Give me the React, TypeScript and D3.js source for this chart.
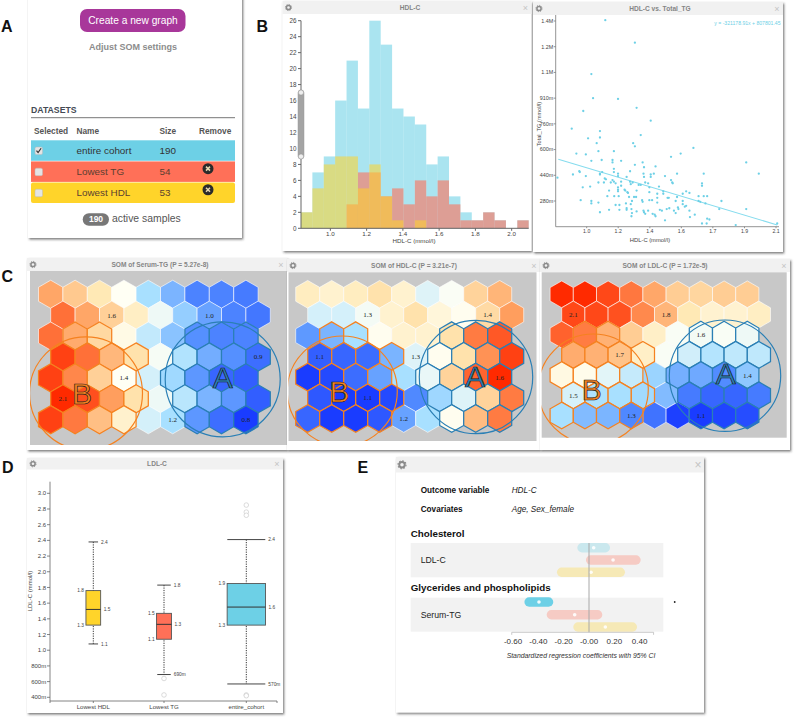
import * as d3 from "d3";
import React from "react";

const CYAN = "#6dd0e6";
const RED = "#ff7058";
const YELLOW = "#ffd42a";

// panel A
const datasetNames = ["entire cohort", "Lowest TG", "Lowest HDL"];
const datasetSizes = [190, 54, 53];

// panel B histogram, counts per bin
const histStart = 0.838;
const histBinWidth = 0.0628;
const histEntire = [2, 7, 9, 16, 21, 15, 26, 23, 15, 14, 13, 8, 9, 4, 2, 1, 2, 1, 0, 1];
const histLowTG = [0, 0, 0, 0, 3, 7, 7, 4, 5, 3, 6, 4, 6, 3, 1, 1, 2, 1, 0, 1];
const histLowHDL = [2, 5, 8, 9, 9, 5, 8, 4, 1, 0, 1, 0, 0, 0, 0, 0, 0, 0, 0, 0];
const histXTicks = [1.0, 1.2, 1.4, 1.6, 1.8, 2.0];
const histYTicks = d3.range(0, 27, 2);

// panel B scatter
const hdlValues = [
  0.83, 0.913, 0.92, 0.94, 0.957, 0.96, 0.965, 0.98, 0.977, 0.995, 0.995, 1.008, 1.02, 1.027, 1.027, 1.027, 1.027,
  1.037, 1.058, 1.068, 1.068, 1.068, 1.077, 1.077, 1.077, 1.077, 1.077, 1.09, 1.087, 1.1, 1.105, 1.112, 1.108, 1.12,
  1.13, 1.13, 1.14, 1.15, 1.15, 1.15, 1.158, 1.158, 1.158, 1.158, 1.16, 1.168, 1.168, 1.182, 1.182, 1.182, 1.182,
  1.182, 1.182, 1.186, 1.19, 1.19, 1.2, 1.2, 1.2, 1.22, 1.224, 1.228, 1.232, 1.236, 1.232, 1.232, 1.24, 1.246, 1.252,
  1.252, 1.256, 1.256, 1.26, 1.26, 1.263, 1.263, 1.267, 1.27, 1.275, 1.28, 1.28, 1.28, 1.287, 1.29, 1.29, 1.29, 1.302,
  1.314, 1.314, 1.322, 1.325, 1.325, 1.33, 1.333, 1.333, 1.33, 1.333, 1.34, 1.34, 1.357, 1.357, 1.364, 1.364, 1.364,
  1.372, 1.372, 1.372, 1.38, 1.383, 1.39, 1.395, 1.4, 1.4, 1.41, 1.41, 1.41, 1.42, 1.425, 1.437, 1.445, 1.445, 1.455,
  1.455, 1.465, 1.47, 1.477, 1.48, 1.49, 1.49, 1.497, 1.5, 1.507, 1.517, 1.517, 1.525, 1.525, 1.53, 1.533, 1.546,
  1.558, 1.558, 1.558, 1.57, 1.578, 1.578, 1.597, 1.597, 1.6, 1.62, 1.628, 1.65, 1.65, 1.66, 1.67, 1.67, 1.67, 1.68,
  1.68, 1.69, 1.7, 1.697, 1.7, 1.713, 1.77, 1.783, 1.866, 1.927, 1.927, 2.0, 2.107,
];
const tgValues = [
  0.425, 0.73, 0.445, 0.575, 0.465, 0.46, 0.285, 0.84, 0.365, 0.57, 0.435, 0.67, 0.37, 0.53, 0.28, 1.07, 0.265, 0.92,
  0.64, 0.59, 0.395, 0.27, 0.715, 0.675, 0.45, 0.445, 0.21, 0.46, 0.535, 0.395, 0.42, 0.415, 1.405, 0.31, 0.345, 0.225,
  0.395, 0.535, 0.52, 0.41, 0.59, 0.48, 0.46, 0.4, 0.31, 0.39, 0.255, 0.915, 0.45, 0.435, 0.365, 0.35, 0.34, 0.31,
  0.255, 0.225, 0.53, 0.4, 0.375, 0.35, 0.345, 0.265, 0.43, 0.335, 0.235, 0.225, 0.33, 0.305, 0.465, 0.4, 0.385, 0.26,
  0.23, 0.185, 0.28, 0.205, 0.395, 0.64, 0.305, 0.62, 1.265, 0.505, 0.305, 0.345, 0.215, 0.86, 0.38, 0.69, 0.38, 0.285,
  0.52, 0.275, 0.22, 0.21, 0.49, 0.45, 0.43, 0.2, 0.395, 0.39, 0.22, 0.365, 0.285, 0.335, 0.78, 0.43, 0.445, 0.285, 0.2,
  0.45, 0.195, 0.495, 0.185, 0.325, 0.3, 0.27, 0.37, 0.225, 0.22, 0.34, 0.325, 0.16, 0.435, 0.23, 0.3, 0.3, 0.235, 0.41,
  0.555, 0.395, 0.39, 0.22, 0.28, 0.205, 0.45, 0.305, 0.24, 0.23, 0.575, 0.325, 0.28, 0.26, 0.245, 0.34, 0.25, 0.33,
  0.22, 0.18, 0.61, 0.195, 0.31, 0.28, 0.275, 0.39, 0.375, 0.14, 0.45, 0.31, 0.265, 0.31, 0.14, 0.17, 0.165, 0.23, 0.28,
  0.13, 0.52, 0.23, 0.45, 0.14,
];
const regSlope = -0.32117891;
const regIntercept = 0.80780145;
const scatterXTicks = [1.0, 1.183, 1.367, 1.55, 1.733, 1.917, 2.1];
const scatterXLabels = ["1.0", "1.2", "1.4", "1.6", "1.7", "1.9", "2.1"];
const scatterYTicks = [0.28, 0.44, 0.6, 0.76, 0.92, 1.08, 1.24, 1.4];
const scatterYLabels = ["280m", "440m", "600m", "760m", "910m", "1.1M", "1.2M", "1.4M"];

// panel C, SOM cell values, row by row
const somTG = [
  [1.82, 1.68, 1.55, 1.42, 1.22, 1.1, 0.97, 0.97, 0.95],
  [1.95, 1.82, 1.65, 1.52, 1.38, 1.17, 1.05, 0.97, 0.94],
  [1.95, 1.8, 1.62, 1.45, 1.28, 1.14, 1.0, 0.97, 0.97],
  [2.05, 1.95, 1.75, 1.58, 1.4, 1.24, 1.08, 1.0, 0.92],
  [2.05, 1.9, 1.65, 1.42, 1.32, 1.2, 1.02, 0.9, 0.88],
  [2.1, 2.02, 1.85, 1.58, 1.38, 1.26, 1.1, 1.02, 0.88],
  [2.05, 1.93, 1.72, 1.5, 1.32, 1.22, 1.02, 0.92, 0.8],
];
const somHDL = [
  [1.39, 1.375, 1.39, 1.41, 1.375, 1.31, 1.335, 1.43, 1.47],
  [1.3, 1.3, 1.33, 1.375, 1.41, 1.365, 1.345, 1.42, 1.5],
  [1.18, 1.21, 1.26, 1.345, 1.375, 1.375, 1.41, 1.53, 1.56],
  [1.1, 1.11, 1.12, 1.21, 1.31, 1.345, 1.41, 1.51, 1.58],
  [1.05, 1.07, 1.12, 1.19, 1.26, 1.32, 1.43, 1.55, 1.6],
  [1.09, 1.05, 1.05, 1.07, 1.16, 1.25, 1.31, 1.43, 1.53],
  [1.11, 1.05, 1.05, 1.09, 1.19, 1.26, 1.345, 1.46, 1.53],
];
const somLDL = [
  [2.15, 2.15, 2.08, 1.97, 1.86, 1.78, 1.76, 1.78, 1.78],
  [2.08, 2.08, 2.06, 1.93, 1.83, 1.72, 1.66, 1.66, 1.69],
  [2.02, 1.96, 1.84, 1.78, 1.68, 1.57, 1.56, 1.57, 1.55],
  [1.85, 1.84, 1.8, 1.68, 1.57, 1.5, 1.45, 1.47, 1.47],
  [1.62, 1.6, 1.53, 1.48, 1.41, 1.35, 1.34, 1.29, 1.39],
  [1.51, 1.44, 1.43, 1.42, 1.37, 1.25, 1.2, 1.2, 1.25],
  [1.43, 1.37, 1.36, 1.28, 1.23, 1.11, 1.1, 1.12, 1.14],
];
const somTGStops = [0.8, 1.0, 1.22, 1.42, 1.55, 1.85, 2.1];
const somHDLStops = [1.05, 1.17, 1.26, 1.34, 1.4, 1.5, 1.6];
const somLDLStops = [1.1, 1.3, 1.43, 1.58, 1.72, 1.88, 2.15];
const somColors = ["#1a3cff", "#5590ff", "#a8e0ff", "#fffff4", "#ffe9b5", "#ff9e5e", "#ff2a00"];
// [row, col, text]
const somTGLabels: [number, number, string][] = [
  [1, 2, "1.6"], [1, 6, "1.0"], [3, 8, "0.9"], [4, 3, "1.4"], [5, 0, "2.1"], [6, 5, "1.2"], [6, 8, "0.8"],
];
const somHDLLabels: [number, number, string][] = [
  [1, 2, "1.3"], [1, 7, "1.4"], [3, 0, "1.1"], [3, 4, "1.3"], [4, 8, "1.6"], [5, 2, "1.1"], [6, 4, "1.2"],
];
const somLDLLabels: [number, number, string][] = [
  [1, 0, "2.1"], [1, 4, "1.8"], [2, 6, "1.6"], [3, 2, "1.7"], [4, 8, "1.4"], [5, 0, "1.5"], [6, 3, "1.3"], [6, 6, "1.1"],
];
const groupBCells: [number, number[]][] = [
  [2, [1, 2]], [3, [0, 1, 2, 3]], [4, [0, 1, 2, 3]], [5, [0, 1, 2, 3]], [6, [0, 1, 2, 3]],
];
const groupACells: [number, number[]][] = [
  [2, [6, 7, 8]], [3, [5, 6, 7, 8]], [4, [5, 6, 7, 8]], [5, [5, 6, 7, 8]], [6, [6, 7, 8]],
];

// panel D
const boxNames = ["Lowest HDL", "Lowest TG", "entire_cohort"];
const boxSizes = [53, 54, 190];
const boxUpper = [2.38, 1.83, 2.41];
const boxQ3 = [1.76, 1.47, 1.85];
const boxMedian = [1.52, 1.33, 1.55];
const boxQ1 = [1.32, 1.14, 1.32];
const boxLower = [1.08, 0.69, 0.57];
const boxOutliers = [[], [0.64, 0.43], [2.85, 2.76, 2.72, 0.43, 0.42]];
const boxColors = [YELLOW, RED, CYAN];
const boxUpperText = ["2.4", "1.8", "2.4"];
const boxQ3Text = ["1.8", "1.5", "1.9"];
const boxMedianText = ["1.5", "1.3", "1.6"];
const boxQ1Text = ["1.3", "1.1", "1.3"];
const boxLowerText = ["1.1", "690m", "570m"];
const boxYTicks = [0.4, 0.6, 0.8, 1.0, 1.2, 1.4, 1.6, 1.8, 2.0, 2.2, 2.4, 2.6, 2.8, 3.0];
const boxYLabels = ["400m", "600m", "800m", "1.0", "1.2", "1.4", "1.6", "1.8", "2.0", "2.2", "2.4", "2.6", "2.8", "3.0"];

// panel E, one triple per variable: entire cohort, lowest TG, lowest HDL
const forestVars = ["LDL-C", "Serum-TG"];
const forestCoef = [[0.037, 0.19, 0.016], [-0.395, -0.113, 0.129]];
const forestLow = [[-0.092, -0.024, -0.253], [-0.51, -0.334, -0.124]];
const forestHigh = [[0.166, 0.408, 0.284], [-0.282, 0.105, 0.379]];
const forestSignificant = [[false, false, false], [true, false, false]];
const forestTicks = [-0.6, -0.4, -0.2, 0, 0.2, 0.4];
const forestLabels = ["-0.60", "-0.40", "-0.20", "-0.00", "0.20", "0.40"];

const hexAngles = d3.range(6).map(i => (i * Math.PI) / 3);

const Gear: React.FC<{ x: number; y: number; k?: number }> = ({ x, y, k = 1 }) => (
  <g transform={`translate(${x}, ${y}) scale(${k})`}>
    <circle r={2.1} fill="none" stroke="#8a8a8a" strokeWidth={1.5} />
    <circle r={3.1} fill="none" stroke="#8a8a8a" strokeWidth={0.9} strokeDasharray="1.2 1.2" />
  </g>
);

const Win: React.FC<{
  x: number;
  y: number;
  w: number;
  h: number;
  title: string;
  titleX: number;
  barH?: number;
  children?: React.ReactNode;
}> = ({ x, y, w, h, title, titleX, barH = 13, children }) => (
  <g>
    <rect x={x} y={y} width={w} height={h} fill="#fff" filter="url(#shadow)" />
    <rect x={x} y={y} width={w} height={barH} fill="#f1f1f1" />
    <Gear x={x + 6} y={y + barH / 2} k={barH > 14 ? 1.3 : 1} />
    <text x={titleX} y={y + barH / 2} dy="0.35em" textAnchor="middle" fontSize={6.6} fontWeight="bold" fill="#858585">
      {title}
    </text>
    <text x={x + w - 6} y={y + barH / 2} dy="0.35em" textAnchor="middle" fontSize={barH > 14 ? 12 : 9} fill="#c4c4c4">
      ×
    </text>
    {children}
  </g>
);

const Histogram: React.FC = () => {
  const xScale = d3.scaleLinear().domain([histStart, histStart + 20 * histBinWidth]).range([301, 528.7]);
  const yScale = d3.scaleLinear().domain([0, 26]).range([228.3, 20.7]);
  const bars = (vals: number[], color: string, op: number) =>
    vals.map((v, i) =>
      v > 0 ? (
        <rect
          key={i}
          x={xScale(histStart + i * histBinWidth)}
          y={yScale(v)}
          width={xScale(histBinWidth + histStart) - xScale(histStart)}
          height={yScale(0) - yScale(v)}
          fill={color}
          fillOpacity={op}
        />
      ) : null
    );
  return (
    <g>
      {bars(histEntire, CYAN, 0.58)}
      {bars(histLowTG, RED, 0.6)}
      {bars(histLowHDL, YELLOW, 0.55)}
      <line x1={301} x2={301} y1={yScale(26)} y2={yScale(0)} stroke="#666" />
      <line x1={301} x2={528.7} y1={yScale(0)} y2={yScale(0)} stroke="#666" />
      {histYTicks.map(v => (
        <g key={v} transform={`translate(301, ${yScale(v)})`}>
          <line x1={-3} stroke="#666" />
          <text x={-4.5} dy="0.35em" textAnchor="end" fontSize={6.3} fill="#444">
            {v}
          </text>
        </g>
      ))}
      {histXTicks.map(v => (
        <g key={v} transform={`translate(${xScale(v)}, ${yScale(0)})`}>
          <line y2={2.5} stroke="#666" />
          <text y={6} dy="0.35em" textAnchor="middle" fontSize={6.2} fill="#444">
            {v.toFixed(1)}
          </text>
        </g>
      ))}
      <text x={414} y={243} textAnchor="middle" fontSize={6.2} fill="#444">
        HDL-C (mmol/l)
      </text>
      <rect x={298} y={90} width={6} height={69} rx={3} fill="#a4a4a4" stroke="#999" strokeWidth={0.5} />
      <circle cx={301} cy={92.5} r={2.6} fill="#eee" stroke="#999" strokeWidth={0.6} />
      <circle cx={301} cy={156.5} r={2.6} fill="#eee" stroke="#999" strokeWidth={0.6} />
    </g>
  );
};

const Scatter: React.FC = () => {
  const xScale = d3.scaleLinear().domain([1.0, 2.1]).range([586.7, 776]);
  const yScale = d3.scaleLinear().domain([0.28, 1.4]).range([201, 21]);
  const x0 = 0.835;
  const x1 = 2.107;
  return (
    <g>
      <line x1={555.7} x2={555.7} y1={15} y2={226.7} stroke="#777" strokeWidth={0.8} />
      <line x1={555.7} x2={779} y1={226.7} y2={226.7} stroke="#777" strokeWidth={0.8} />
      {scatterYTicks.map((v, i) => (
        <g key={v} transform={`translate(555.7, ${yScale(v)})`}>
          <line x1={-2} stroke="#777" strokeWidth={0.8} />
          <text x={-2.5} dy="0.35em" textAnchor="end" fontSize={5.4} fill="#444">
            {scatterYLabels[i]}
          </text>
        </g>
      ))}
      {scatterXTicks.map((v, i) => (
        <g key={v} transform={`translate(${xScale(v)}, 226.7)`}>
          <line y2={1.5} stroke="#777" strokeWidth={0.8} />
          <text y={4.5} dy="0.35em" textAnchor="middle" fontSize={5.2} fill="#444">
            {scatterXLabels[i]}
          </text>
        </g>
      ))}
      <text x={650} y={242} textAnchor="middle" fontSize={5.8} fill="#444">
        HDL-C (mmol/l)
      </text>
      <text transform="translate(539, 124) rotate(-90)" dy="0.35em" textAnchor="middle" fontSize={5.6} fill="#444">
        Total_TG (mmol/l)
      </text>
      <line
        x1={xScale(x0)}
        x2={xScale(x1)}
        y1={yScale(regSlope * x0 + regIntercept)}
        y2={yScale(regSlope * x1 + regIntercept)}
        stroke="#86dcee"
        strokeWidth={1.1}
      />
      {hdlValues.map((v, i) => (
        <circle key={i} cx={xScale(v)} cy={yScale(tgValues[i])} r={1.15} fill={CYAN} />
      ))}
      <text x={780.5} y={23} dy="0.35em" textAnchor="end" fontSize={5.1} fill={CYAN}>
        y = -321178.91x + 807801.45
      </text>
    </g>
  );
};

const Som: React.FC<{
  id: string;
  values: number[][];
  stops: number[];
  labels: [number, number, string][];
  bg: [number, number, number, number];
  origin: [number, number];
  step: [number, number];
  circleA: [number, number, number];
  circleB: [number, number, number];
  letterA: [number, number];
  letterB: [number, number];
}> = ({ id, values, stops, labels, bg, origin, step, circleA, circleB, letterA, letterB }) => {
  const color = d3.scaleLinear<string>().domain(stops).range(somColors).clamp(true);
  const xPos = d3.scaleLinear().domain([0, 8]).range([origin[0], origin[0] + 8 * step[0]]);
  const yPos = d3.scaleLinear().domain([0, 6]).range([origin[1], origin[1] + 6 * step[1]]);
  const r = step[0] / Math.sqrt(3);
  const hex = d3.lineRadial<number>().angle(d => d).radius(r).curve(d3.curveLinearClosed)(hexAngles)!;
  const cx = (row: number, col: number) => xPos(col) + (row % 2 ? step[0] / 2 : 0);
  const cells = values.flatMap((vals, row) =>
    vals.map((v, col) => {
      const inA = groupACells.some(([r2, cols]) => r2 === row && cols.includes(col));
      const inB = groupBCells.some(([r2, cols]) => r2 === row && cols.includes(col));
      return { v, row, col, group: inA ? "A" : inB ? "B" : "" };
    })
  );
  const ordered = [...cells.filter(c => !c.group), ...cells.filter(c => c.group)];
  return (
    <g>
      <clipPath id={id}>
        <rect x={bg[0]} y={bg[1]} width={bg[2]} height={bg[3]} />
      </clipPath>
      <rect x={bg[0]} y={bg[1]} width={bg[2]} height={bg[3]} fill="#c8c8c8" />
      <g clipPath={`url(#${id})`}>
        {ordered.map(c => (
          <path
            key={`${c.row}-${c.col}`}
            d={hex}
            transform={`translate(${cx(c.row, c.col)}, ${yPos(c.row)})`}
            fill={color(c.v)}
            stroke={c.group === "A" ? "#2a7fb5" : c.group === "B" ? "#f58220" : "#fff"}
            strokeOpacity={c.group ? 1 : 0.75}
            strokeWidth={c.group ? 1.25 : 0.8}
          />
        ))}
        {labels.map(([row, col, t]) => (
          <text
            key={`${row}-${col}`}
            x={cx(row, col)}
            y={yPos(row)}
            dy="0.35em"
            textAnchor="middle"
            fontFamily="Liberation Serif"
            fontSize={7}
            fill="#222"
          >
            {t}
          </text>
        ))}
        <circle cx={circleA[0]} cy={circleA[1]} r={circleA[2]} fill="none" stroke="#2a7fb5" strokeWidth={1.2} />
        <circle cx={circleB[0]} cy={circleB[1]} r={circleB[2]} fill="none" stroke="#f58220" strokeWidth={1.2} />
        <text
          x={letterA[0]}
          y={letterA[1]}
          dy="0.35em"
          textAnchor="middle"
          fontSize={30}
          fill="#2a7fb5"
          stroke="#1d1d1d"
          strokeWidth={0.7}
        >
          A
        </text>
        <text
          x={letterB[0]}
          y={letterB[1]}
          dy="0.35em"
          textAnchor="middle"
          fontSize={30}
          fill="#f58220"
          stroke="#1d1d1d"
          strokeWidth={0.7}
        >
          B
        </text>
      </g>
    </g>
  );
};

const BoxPlot: React.FC = () => {
  const yScale = d3.scaleLinear().domain([0.4, 3.0]).range([697.3, 493.3]);
  const xPos = d3.scaleOrdinal<string, number>().domain(boxNames).range([93.3, 164, 246.3]);
  const boxW = d3.scaleLinear().domain([53, 190]).range([14.7, 38.3]);
  const capW = d3.scaleOrdinal<string, number>().domain(boxNames).range([9.5, 13.5, 38]);
  const bottom = 701;
  return (
    <g>
      <line x1={50} x2={50} y1={481.7} y2={bottom} stroke="#666" strokeWidth={0.8} />
      <line x1={50} x2={277} y1={bottom} y2={bottom} stroke="#666" strokeWidth={0.8} />
      {boxYTicks.map((v, i) => (
        <g key={v} transform={`translate(50, ${yScale(v)})`}>
          <line x1={-3} stroke="#666" strokeWidth={0.8} />
          <text x={-3.8} dy="0.35em" textAnchor="end" fontSize={6} fill="#444">
            {boxYLabels[i]}
          </text>
        </g>
      ))}
      {[50, 277].map(t => (
        <line key={t} x1={t} x2={t} y1={bottom} y2={bottom + 2} stroke="#666" strokeWidth={0.8} />
      ))}
      <text transform="translate(30, 591) rotate(-90)" dy="0.35em" textAnchor="middle" fontSize={6} fill="#444">
        LDL-C (mmol/l)
      </text>
      {boxNames.map((name, i) => {
        const x = xPos(name);
        const w = boxW(boxSizes[i]);
        const cap = capW(name);
        return (
          <g key={name}>
            <line x1={x} x2={x} y1={bottom} y2={bottom + 2} stroke="#666" strokeWidth={0.8} />
            <text x={x} y={706.7} dy="0.35em" textAnchor="middle" fontSize={6.1} fill="#444">
              {name}
            </text>
            <line x1={x} x2={x} y1={yScale(boxUpper[i])} y2={yScale(boxLower[i])} stroke="#333" strokeDasharray="1.2 1.2" />
            {[boxUpper[i], boxLower[i]].map(v => (
              <line key={v} x1={x - cap / 2} x2={x + cap / 2} y1={yScale(v)} y2={yScale(v)} stroke="#444" strokeWidth={1} />
            ))}
            <rect
              x={x - w / 2}
              y={yScale(boxQ3[i])}
              width={w}
              height={yScale(boxQ1[i]) - yScale(boxQ3[i])}
              fill={boxColors[i]}
              stroke="#555"
              strokeWidth={0.9}
            />
            <line x1={x - w / 2} x2={x + w / 2} y1={yScale(boxMedian[i])} y2={yScale(boxMedian[i])} stroke="#333" strokeWidth={1} />
            {boxOutliers[i].map((v, j) => (
              <circle key={j} cx={x} cy={yScale(v)} r={2.3} fill="#fff" stroke="#ccc" strokeWidth={0.7} />
            ))}
            {[
              { v: boxUpper[i], t: boxUpperText[i], right: true, off: cap / 2 + 3 },
              { v: boxQ3[i], t: boxQ3Text[i], right: false, off: w / 2 + 2 },
              { v: boxMedian[i], t: boxMedianText[i], right: true, off: w / 2 + 3 },
              { v: boxQ1[i], t: boxQ1Text[i], right: false, off: w / 2 + 2 },
              { v: boxLower[i], t: boxLowerText[i], right: true, off: cap / 2 + 3 },
            ].map(l => (
              <text
                key={`${l.v}${l.right}`}
                x={l.right ? x + l.off : x - l.off}
                y={yScale(l.v)}
                dy="0.35em"
                textAnchor={l.right ? "start" : "end"}
                fontSize={4.8}
                fill="#444"
              >
                {l.t}
              </text>
            ))}
          </g>
        );
      })}
    </g>
  );
};

const Forest: React.FC = () => {
  const xScale = d3.scaleLinear().domain([0, 0.2]).range([589, 614.33]);
  const rowYs = [[547.7, 560, 572.3], [602, 614.7, 627]];
  const bands = [[543, 34.3], [597.7, 34]];
  const labelYs = [560.3, 614.7];
  const colors = [CYAN, RED, YELLOW];
  const axisY = 632.3;
  return (
    <g>
      <text x={420.7} y={489.7} dy="0.35em" fontSize={8.2} fontWeight="bold" fill="#111">
        Outcome variable
      </text>
      <text x={511.7} y={489.7} dy="0.35em" fontSize={8.2} fontStyle="italic" fill="#222">
        HDL-C
      </text>
      <text x={420.7} y={509} dy="0.35em" fontSize={8.2} fontWeight="bold" fill="#111">
        Covariates
      </text>
      <text x={511.7} y={509} dy="0.35em" fontSize={8.2} fontStyle="italic" fill="#222">
        Age, Sex_female
      </text>
      <text x={410.7} y={533.3} dy="0.35em" fontSize={9.8} fontWeight="bold" fill="#111">
        Cholesterol
      </text>
      <text x={410.7} y={587.7} dy="0.35em" fontSize={9.8} fontWeight="bold" fill="#111">
        Glycerides and phospholipids
      </text>
      {forestVars.map((name, i) => (
        <g key={name}>
          <rect x={410.7} y={bands[i][0]} width={252.6} height={bands[i][1]} fill="#f2f2f2" />
          <text x={420.7} y={labelYs[i]} dy="0.35em" fontSize={8.7} fill="#222">
            {name}
          </text>
          {forestCoef[i].map((c, j) => (
            <g key={j} opacity={forestSignificant[i][j] ? 1 : 0.3}>
              <rect
                x={xScale(forestLow[i][j])}
                y={rowYs[i][j] - 4.7}
                width={xScale(forestHigh[i][j]) - xScale(forestLow[i][j])}
                height={9.4}
                rx={4.7}
                fill={colors[j]}
              />
            </g>
          ))}
          {forestCoef[i].map((c, j) => (
            <circle key={j} cx={xScale(c)} cy={rowYs[i][j]} r={1.8} fill="#fff" fillOpacity={0.9} />
          ))}
        </g>
      ))}
      <line x1={xScale(0)} x2={xScale(0)} y1={543} y2={axisY} stroke="#a8a8a8" strokeWidth={1} />
      <path d={`M${xScale(-0.61)},${axisY + 2.5}V${axisY}H${xScale(0.51)}V${axisY + 2.5}`} fill="none" stroke="#bbb" strokeWidth={0.8} />
      {forestTicks.map((t, i) => (
        <text key={t} x={xScale(t)} y={640.7} dy="0.35em" textAnchor="middle" fontSize={8} fill="#333">
          {forestLabels[i]}
        </text>
      ))}
      <text x={581} y={656} dy="0.35em" textAnchor="middle" fontSize={6.85} fontStyle="italic" fill="#333">
        Standardized regression coefficients with 95% CI
      </text>
      <circle cx={674.7} cy={602} r={0.9} fill="#222" />
    </g>
  );
};

const Datasets: React.FC = () => {
  const rowY = d3.scaleBand<number>().domain([0, 1, 2]).range([140.3, 203]).paddingInner(0.03);
  const rowFill = [CYAN, RED, YELLOW];
  return (
    <g>
      <rect x={28} y={-6} width={214} height={244} fill="#fff" filter="url(#shadow)" />
      <rect x={80} y={9} width={105.5} height={23} rx={7} fill="#a8379a" />
      <text x={133} y={20.5} dy="0.35em" textAnchor="middle" fontSize={10.2} fill="#fff">
        Create a new graph
      </text>
      <text x={133} y={47} dy="0.35em" textAnchor="middle" fontSize={9} fontWeight="bold" fill="#8c8c8c">
        Adjust SOM settings
      </text>
      <text x={31} y={110} dy="0.35em" fontSize={8.7} fontWeight="bold" fill="#454a54">
        DATASETS
      </text>
      <line x1={31} x2={235} y1={117.7} y2={117.7} stroke="#777" />
      {[["Selected", 34], ["Name", 76.5], ["Size", 159.5], ["Remove", 199]].map(([t, x]) => (
        <text key={t as string} x={x as number} y={131.3} dy="0.35em" fontSize={8.3} fontWeight="bold" fill="#555">
          {t}
        </text>
      ))}
      {datasetNames.map((name, i) => {
        const y = rowY(i)!;
        const h = rowY.bandwidth();
        return (
          <g key={name}>
            <rect x={31} y={y} width={204} height={h} fill={rowFill[i]} rx={i === 2 ? 2 : 0} />
            <rect x={35} y={y + h / 2 - 3.5} width={7.5} height={7.5} rx={1.5} fill="#e4e4e4" stroke="#bbb" strokeWidth={0.5} />
            {i === 0 && (
              <path d={`M36.5,${y + h / 2}l1.6,2l3,-4.3`} fill="none" stroke="#333" strokeWidth={1.2} />
            )}
            <text x={76.5} y={y + h / 2} dy="0.35em" fontSize={9.9} fill={i === 0 ? "#333" : "#5c3f30"}>
              {name}
            </text>
            <text x={159.5} y={y + h / 2} dy="0.35em" fontSize={9.9} fill={i === 0 ? "#333" : "#5c3f30"}>
              {datasetSizes[i]}
            </text>
            {i > 0 && (
              <g transform={`translate(208, ${y + h / 2 - 3})`}>
                <circle r={5.5} fill="#2b2b2b" />
                <path d="M-2,-2L2,2M2,-2L-2,2" stroke="#e8d8b0" strokeWidth={1.5} />
              </g>
            )}
          </g>
        );
      })}
      <rect x={82.7} y={213.3} width={26.3} height={12.4} rx={6.2} fill="#777" />
      <text x={96} y={219.5} dy="0.35em" textAnchor="middle" fontSize={8.5} fontWeight="bold" fill="#fff">
        {datasetSizes[0]}
      </text>
      <text x={112} y={218} dy="0.35em" fontSize={10.4} fill="#555">
        active samples
      </text>
    </g>
  );
};

export default function App() {
  return (
    <svg
      width={795}
      height={717}
      style={{ position: "absolute", left: 0, top: 0, background: "#fff" }}
      fontFamily="Liberation Sans"
    >
      <defs>
        <filter id="shadow" x="-5%" y="-5%" width="112%" height="112%">
          <feDropShadow dx={1.2} dy={1.5} stdDeviation={1.3} floodColor="#333" floodOpacity={0.65} />
        </filter>
      </defs>
      <Datasets />

      <Win x={282.5} y={1} w={249} h={250} title="HDL-C" titleX={410}>
        <Histogram />
      </Win>
      <Win x={533} y={2} w={250} h={250} title="HDL-C vs. Total_TG" titleX={660}>
        <Scatter />
      </Win>

      <Win x={27} y={258} w={260} h={192} title="SOM of Serum-TG (P = 5.27e-8)" titleX={160}>
        <Som
          id="somA"
          values={somTG}
          stops={somTGStops}
          labels={somTGLabels}
          bg={[30, 271, 257, 174]}
          origin={[50.7, 294.3]}
          step={[24.4, 20.9]}
          circleA={[222.7, 379.3, 57.5]}
          circleB={[86, 393.3, 56.5]}
          letterA={[222.7, 377]}
          letterB={[82, 393]}
        />
      </Win>
      <Win x={287} y={259} w={253} h={191} title="SOM of HDL-C (P = 3.21e-7)" titleX={414}>
        <Som
          id="somB"
          values={somHDL}
          stops={somHDLStops}
          labels={somHDLLabels}
          bg={[288.5, 272.3, 248, 168.7]}
          origin={[307.7, 294.3]}
          step={[24, 20.7]}
          circleA={[476, 377, 56.7]}
          circleB={[342.3, 391, 55]}
          letterA={[475, 376]}
          letterB={[339.5, 391]}
        />
      </Win>
      <Win x={540} y={259} w={250} h={191} title="SOM of LDL-C (P = 1.72e-5)" titleX={665}>
        <Som
          id="somC"
          values={somLDL}
          stops={somLDLStops}
          labels={somLDLLabels}
          bg={[541.7, 272.3, 245, 165.4]}
          origin={[561.7, 294.3]}
          step={[23.2, 20.2]}
          circleA={[725, 375.7, 55.7]}
          circleB={[593.3, 389, 55]}
          letterA={[725.7, 373]}
          letterB={[591.7, 389]}
        />
      </Win>

      <Win x={27} y={458} w={256} h={255} title="LDL-C" titleX={157} barH={11.5}>
        <BoxPlot />
      </Win>
      <Win x={396} y={457} w={308} h={255.5} title="" titleX={550} barH={15.5}>
        <Forest />
      </Win>

      {[["A", 1, 32], ["B", 256.5, 32], ["C", 1.5, 282], ["D", 2, 472.5], ["E", 357.5, 472.5]].map(([t, x, y]) => (
        <text key={t as string} x={x as number} y={y as number} fontSize={16} fontWeight="bold" fill="#111">
          {t}
        </text>
      ))}
    </svg>
  );
}
